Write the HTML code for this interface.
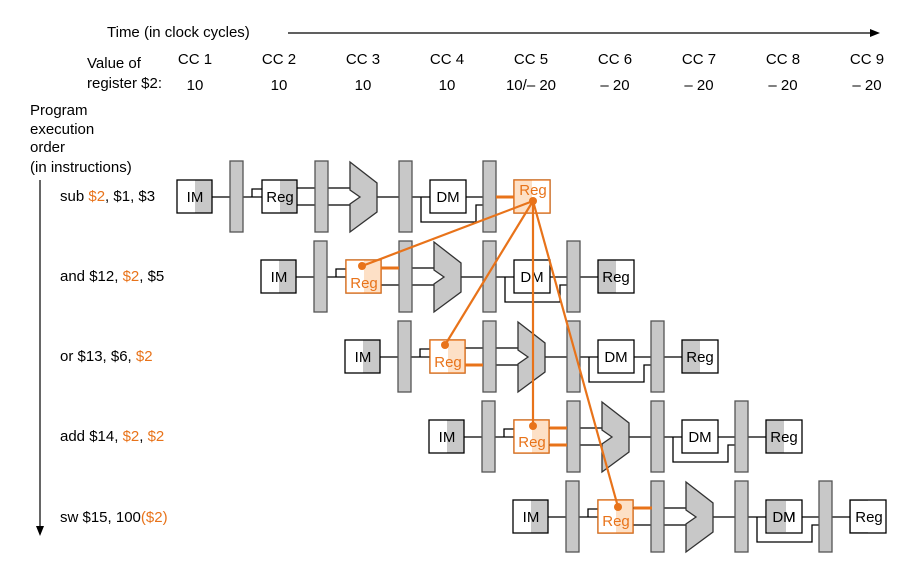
<!DOCTYPE html>
<html><head><meta charset="utf-8"><style>
html,body{margin:0;padding:0;background:#fff;}
svg{display:block;font-family:"Liberation Sans",Arial,sans-serif;}
</style></head><body>
<svg width="916" height="581" viewBox="0 0 916 581" xmlns="http://www.w3.org/2000/svg">
<defs>
<g id="row">
  <!-- wires -->
  <g stroke="#000" stroke-width="1.3" fill="none">
    <line x1="212" y1="197" x2="230" y2="197"/>
    <line x1="243" y1="197" x2="262" y2="197"/>
    <polyline points="252,197 252,189 262,189"/>
    <line x1="297" y1="188" x2="315" y2="188"/>
    <line x1="297" y1="205" x2="315" y2="205"/>
    <line x1="327" y1="188" x2="355" y2="188"/>
    <line x1="327" y1="205" x2="355" y2="205"/>
    <line x1="377" y1="197" x2="399" y2="197"/>
    <line x1="412" y1="197" x2="430" y2="197"/>
    <polyline points="421,197 421,222 476,222 476,205 483,205"/>
    <line x1="466" y1="197" x2="483" y2="197"/>
    <line x1="496" y1="197" x2="514" y2="197"/>
  </g>
  <!-- IM -->
  <rect x="177" y="180" width="35" height="33" fill="#fff"/>
  <rect x="195" y="180" width="17" height="33" fill="#c8c8c8"/>
  <rect x="177" y="180" width="35" height="33" fill="none" stroke="#000" stroke-width="1.3"/>
  <text x="195" y="202" font-size="15" text-anchor="middle" fill="#000">IM</text>
  <!-- pipeline regs -->
  <g fill="#c8c8c8" stroke="#555" stroke-width="1.3">
    <rect x="230" y="161" width="13" height="71"/>
    <rect x="315" y="161" width="13" height="71"/>
    <rect x="399" y="161" width="13" height="71"/>
    <rect x="483" y="161" width="13" height="71"/>
  </g>
  <!-- Reg read -->
  <rect x="262" y="180" width="35" height="33" fill="#fff"/>
  <rect x="280" y="180" width="17" height="33" fill="#c8c8c8"/>
  <rect x="262" y="180" width="35" height="33" fill="none" stroke="#000" stroke-width="1.3"/>
  <!-- ALU -->
  <polygon points="350,162 377,183 377,212 350,232 350,204 360,197 350,190" fill="#c8c8c8" stroke="#333" stroke-width="1.3"/>
  <!-- DM -->
  <rect x="430" y="180" width="36" height="33" fill="#fff" stroke="#000" stroke-width="1.3"/>
  <text x="448" y="202" font-size="15" text-anchor="middle" fill="#000">DM</text>
  <!-- WB Reg -->
  <rect x="514" y="180" width="36" height="33" fill="#fff"/>
  <rect x="514" y="180" width="18" height="33" fill="#c8c8c8"/>
  <rect x="514" y="180" width="36" height="33" fill="none" stroke="#000" stroke-width="1.3"/>
  <text x="532" y="202" font-size="15" text-anchor="middle" fill="#000">Reg</text>
</g>
<g id="oreg">
  <rect x="262" y="180" width="35" height="33" fill="#fff"/>
  <rect x="280" y="180" width="17" height="33" fill="#fde0c6"/>
  <rect x="262" y="180" width="35" height="33" fill="none" stroke="#e8731a" stroke-width="1.3"/>
</g>
</defs>

<!-- header -->
<g font-size="15" fill="#000">
<text x="107" y="37">Time (in clock cycles)</text>
<text x="87" y="68">Value of</text>
<text x="87" y="88">register $2:</text>
<g text-anchor="middle">
<text x="195" y="64">CC 1</text><text x="279" y="64">CC 2</text><text x="363" y="64">CC 3</text>
<text x="447" y="64">CC 4</text><text x="531" y="64">CC 5</text><text x="615" y="64">CC 6</text>
<text x="699" y="64">CC 7</text><text x="783" y="64">CC 8</text><text x="867" y="64">CC 9</text>
<text x="195" y="90">10</text><text x="279" y="90">10</text><text x="363" y="90">10</text>
<text x="447" y="90">10</text><text x="531" y="90">10/– 20</text><text x="615" y="90">– 20</text>
<text x="699" y="90">– 20</text><text x="783" y="90">– 20</text><text x="867" y="90">– 20</text>
</g>
<text x="30" y="115">Program</text>
<text x="30" y="134">execution</text>
<text x="30" y="152">order</text>
<text x="30" y="172">(in instructions)</text>
</g>
<line x1="288" y1="33" x2="872" y2="33" stroke="#000" stroke-width="1.2"/>
<polygon points="880,33 870,29 870,37" fill="#000"/>
<line x1="40" y1="180" x2="40" y2="528" stroke="#000" stroke-width="1.2"/>
<polygon points="40,536 36,526 44,526" fill="#000"/>

<!-- instruction labels -->
<g font-size="15" fill="#000">
<text x="60" y="201">sub <tspan fill="#e8731a">$2</tspan>, $1, $3</text>
<text x="60" y="281">and $12, <tspan fill="#e8731a">$2</tspan>, $5</text>
<text x="60" y="361">or $13, $6, <tspan fill="#e8731a">$2</tspan></text>
<text x="60" y="441">add $14, <tspan fill="#e8731a">$2</tspan>, <tspan fill="#e8731a">$2</tspan></text>
<text x="60" y="522">sw $15, 100<tspan fill="#e8731a">($2)</tspan></text>
</g>

<!-- rows -->
<use href="#row"/>
<use href="#row" transform="translate(84,80)"/>
<use href="#row" transform="translate(168,160)"/>
<use href="#row" transform="translate(252,240)"/>
<use href="#row" transform="translate(336,320)"/>

<!-- row1 Reg text -->
<text x="280" y="202" font-size="15" text-anchor="middle">Reg</text>
<!-- row5 adjustments: final Reg white, DM left shaded -->
<rect x="851" y="501" width="34" height="31" fill="#fff"/>
<text x="869" y="522" font-size="15" text-anchor="middle">Reg</text>
<rect x="767" y="501" width="19" height="31" fill="#c8c8c8"/>
<text x="784" y="522" font-size="15" text-anchor="middle">DM</text>

<!-- orange read regs -->
<use href="#oreg" transform="translate(84,80)"/>
<use href="#oreg" transform="translate(168,160)"/>
<use href="#oreg" transform="translate(252,240)"/>
<use href="#oreg" transform="translate(336,320)"/>
<g font-size="15" fill="#e8731a" text-anchor="middle">
<text x="364" y="288">Reg</text>
<text x="448" y="367">Reg</text>
<text x="532" y="447">Reg</text>
<text x="616" y="526">Reg</text>
</g>

<!-- row1 WB orange -->
<rect x="514" y="180" width="36" height="33" fill="#fff"/>
<rect x="514" y="180" width="18" height="33" fill="#fde0c6"/>
<rect x="514" y="180" width="36" height="33" fill="none" stroke="#e8731a" stroke-width="1.3"/>
<text x="533" y="195" font-size="15" text-anchor="middle" fill="#e8731a">Reg</text>

<!-- orange forwarding -->
<g stroke="#e8731a" stroke-width="3" fill="none">
<line x1="496" y1="197" x2="514" y2="197"/>
<line x1="381" y1="268" x2="399" y2="268"/>
<line x1="465" y1="365" x2="483" y2="365"/>
<line x1="550" y1="428" x2="567" y2="428"/>
<line x1="550" y1="445" x2="567" y2="445"/>
<line x1="634" y1="508" x2="652" y2="508"/>
</g>
<g stroke="#e8731a" stroke-width="2.2" fill="none">
<line x1="533" y1="201" x2="362" y2="266"/>
<line x1="533" y1="201" x2="445" y2="345"/>
<line x1="533" y1="201" x2="533" y2="426"/>
<line x1="533" y1="201" x2="618" y2="507"/>
</g>
<g fill="#e8731a">
<circle cx="533" cy="201" r="4"/>
<circle cx="362" cy="266" r="4"/>
<circle cx="445" cy="345" r="4"/>
<circle cx="533" cy="426" r="4"/>
<circle cx="618" cy="507" r="4"/>
</g>
</svg>
</body></html>
